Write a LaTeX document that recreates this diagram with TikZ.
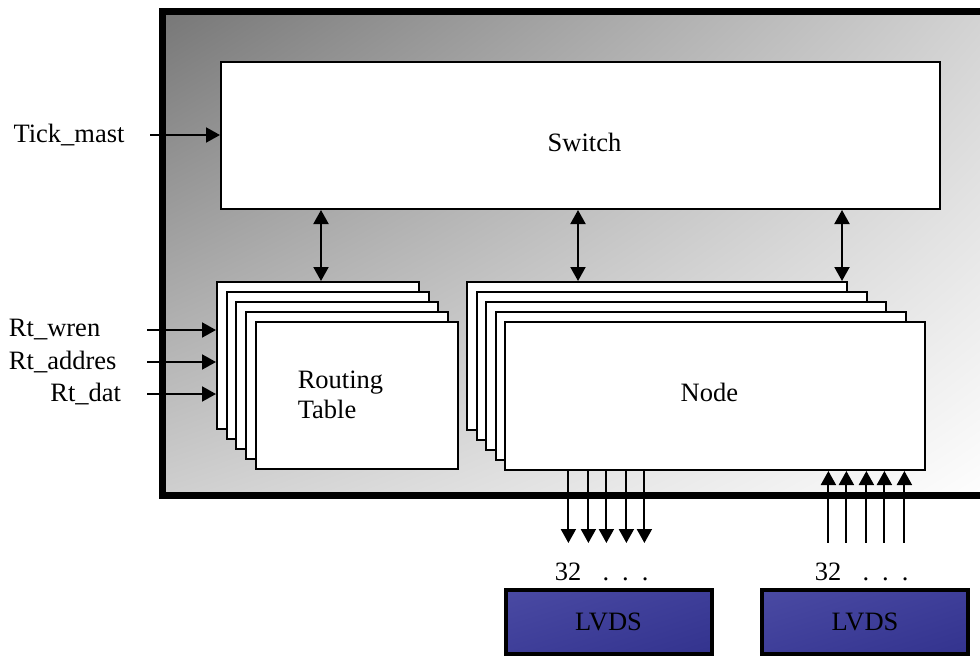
\documentclass[tikz,border=0pt]{standalone}
\usepackage{fontspec}
\setmainfont{Liberation Serif}
\usetikzlibrary{arrows.meta,positioning,calc,shadings}
\definecolor{chipDark}{HTML}{777777}
\definecolor{chipTR}{HTML}{D6D6D6}
\definecolor{chipBL}{HTML}{CFCFCF}
\definecolor{lvdsLight}{HTML}{4A4AA3}
\definecolor{lvdsMid}{HTML}{3E3E99}
\definecolor{lvdsDark}{HTML}{33338E}
\tikzset{
    >={Triangle[length=14pt,width=15pt]},
    chipframe/.style={draw, line width=7pt, upper left=chipDark, upper right=chipTR, lower left=chipBL, lower right=white},
    sheet/.style={rectangle, draw, fill=white, line width=2pt, inner sep=0pt},
    lvds/.style={rectangle, draw, line width=4pt, upper left=lvdsLight, upper right=lvdsMid, lower left=lvdsMid, lower right=lvdsDark, minimum width=206pt, minimum height=64pt},
    txt/.style={inner sep=0pt}
}

\begin{document}
\begin{tikzpicture}[x=1pt, y=-1pt, line width=2pt, font=\fontsize{26.5}{30}\selectfont]
    \useasboundingbox (0,0) rectangle (980,656);
    \clip (0,0) rectangle (980,656);

    % chip
    \path[chipframe] (162.5,11.5) rectangle (1010,495.5);

    \node[sheet, minimum width=719pt, minimum height=147pt,
          label={[txt, xshift=4pt, yshift=-7pt]center:Switch}] (sw) at (580.5,135.5) {};

    % routing tables
    \foreach \i in {0,...,3}
        \node[sheet, minimum width=202pt, minimum height=147pt] (rt\i) at (318+9.7*\i, 355.5+10*\i) {};
    \node[sheet, minimum width=202pt, minimum height=147pt] (rt) at (356.8,395.5) {};
    \node[txt, align=left] (rtname) at (340.5,395) {Routing\\Table};

    % nodes
    \foreach \i in {0,...,3}
        \node[sheet, minimum width=380pt+10pt*\i, minimum height=148pt] (nd\i) at (657+14.6*\i, 356+10*\i) {};
    \node[sheet, minimum width=420pt, minimum height=148pt,
          label={[txt, xshift=-6pt, yshift=4pt]center:Node}] (nd) at (715.4,396) {};

    % switch <-> tables / nodes
    \coordinate (rtTop) at ([xshift=3pt]rt0.north);
    \coordinate (ndTopA) at ([xshift=112pt]nd0.north west);
    \coordinate (ndTopB) at ([xshift=-6pt]nd0.north east);
    \foreach \c in {rtTop,ndTopA,ndTopB}
        \draw[<->] (\c) -- (\c |- sw.south);

    % inputs
    \node[txt] (tick) at (69,135) {Tick\_mast};
    \coordinate (inTick) at (150,135);
    \draw[->] (inTick) -- (inTick -| sw.west);

    \node[txt, anchor=west] (wren) at (8,330) {Rt\_wren};
    \node[txt, anchor=west] (addr) at (8,362) {Rt\_addres};
    \node[txt, anchor=east] (dat) at (122,394) {Rt\_dat};
    \foreach \y/\n in {330/wren,362/addr,394/dat} {
        \coordinate (in\n) at (147,\y);
        \draw[->] (in\n) -- (in\n -| rt0.west);
    }

    % buses to LVDS
    \foreach \d in {64,84,102,122,140}
        \draw[->] ([xshift=\d pt]nd.south west) -- ++(0,72);
    \foreach \d in {324,342,362,380,400}
        \draw[<-] ([xshift=\d pt]nd.south west) -- ++(0,72);

    \node[txt, anchor=base] (widthA) at (568,580) {32};
    \node[txt, anchor=base] (dotsA) at (625.5,580) {.\hspace{13pt}.\hspace{13pt}.};
    \node[txt, anchor=base] (widthB) at (828,580) {32};
    \node[txt, anchor=base] (dotsB) at (885.5,580) {.\hspace{13pt}.\hspace{13pt}.};

    \node[lvds] (lvdsA) at (608.5,622) {LVDS};
    \node[lvds] (lvdsB) at (865,622) {LVDS};
\end{tikzpicture}
\end{document}
